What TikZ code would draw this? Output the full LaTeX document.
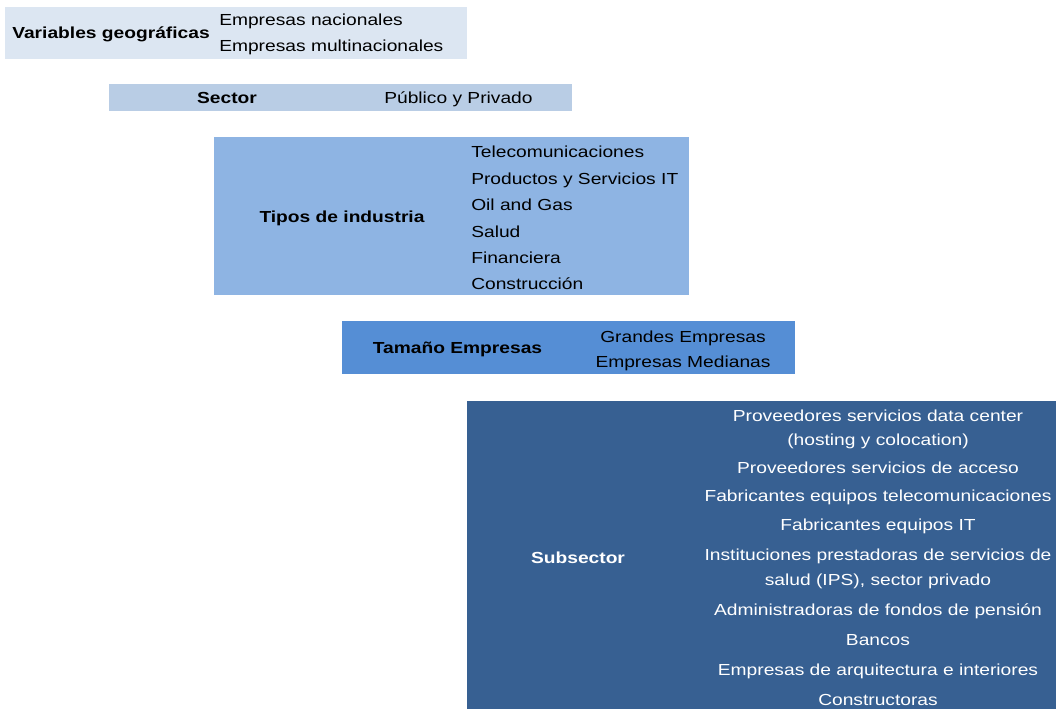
\documentclass[tikz,border=0pt]{standalone}
\usepackage{fontspec}
\setmainfont[FakeStretch=1.2]{Liberation Sans}
\definecolor{geoblue}{HTML}{DCE6F2}
\definecolor{secblue}{HTML}{B9CDE5}
\definecolor{indblue}{HTML}{8EB4E3}
\definecolor{tamblue}{HTML}{558ED5}
\definecolor{subblue}{HTML}{376092}
\tikzset{
  txt/.style={inner sep=0pt, font=\fontsize{12pt}{14pt}\selectfont},
  head/.style={txt, anchor=base, font=\fontsize{12pt}{14pt}\selectfont\bfseries},
  item/.style={txt, anchor=base west},
  citem/.style={txt, anchor=base}
}

\begin{document}
\begin{tikzpicture}[x=0.75pt, y=-0.75pt]
			%%%%% START %%%%%
			\useasboundingbox (0, 0) rectangle (1056, 709);
			
			\fill[geoblue] (5, 7) rectangle (467, 59);
			\node[head] (geo) at (111, 39) {Variables geográficas};
			\node[item] (geo1) at (219, 25.5) {Empresas nacionales};
			\node[item] (geo2) at (219, 51.5) {Empresas multinacionales};
			
			\fill[secblue] (109, 84) rectangle (572, 111);
			\node[head] (sec) at (227, 103.5) {Sector};
			\node[item] (sec1) at (384, 104) {Público y Privado};
			
			\fill[indblue] (214, 137) rectangle (689, 295);
			\node[head] (ind) at (342, 222.5) {Tipos de industria};
			\node[item] (ind1) at (471, 158) {Telecomunicaciones};
			\node[item] (ind2) at (471, 184.5) {Productos y Servicios IT};
			\node[item] (ind3) at (471, 211) {Oil and Gas};
			\node[item] (ind4) at (471, 237.5) {Salud};
			\node[item] (ind5) at (471, 263.5) {Financiera};
			\node[item] (ind6) at (471, 290) {Construcción};
			
			\fill[tamblue] (342, 321) rectangle (795, 374);
			\node[head] (tam) at (457.5, 353.5) {Tamaño Empresas};
			\node[citem] (tam1) at (683, 342) {Grandes Empresas};
			\node[citem] (tam2) at (683, 367.5) {Empresas Medianas};
			
			\fill[subblue] (467, 401) rectangle (1056, 709);
			\begin{scope}[every node/.append style={text=white}]
			\node[head] (sub) at (578, 563) {Subsector};
			\node[citem] (sub1) at (878, 421.5) {Proveedores servicios data center};
			\node[citem] (sub2) at (878, 445.5) {(hosting y colocation)};
			\node[citem] (sub3) at (878, 473) {Proveedores servicios de acceso};
			\node[citem] (sub4) at (878, 501) {Fabricantes equipos telecomunicaciones};
			\node[citem] (sub5) at (878, 530.5) {Fabricantes equipos IT};
			\node[citem] (sub6) at (878, 560.5) {Instituciones prestadoras de servicios de};
			\node[citem] (sub7) at (878, 585.5) {salud (IPS), sector privado};
			\node[citem] (sub8) at (878, 615) {Administradoras de fondos de pensión};
			\node[citem] (sub9) at (878, 645.5) {Bancos};
			\node[citem] (sub10) at (878, 675.5) {Empresas de arquitectura e interiores};
			\node[citem] (sub11) at (878, 705) {Constructoras};
			\end{scope}
			
			%%%%% END %%%%%
\end{tikzpicture}
\end{document}
